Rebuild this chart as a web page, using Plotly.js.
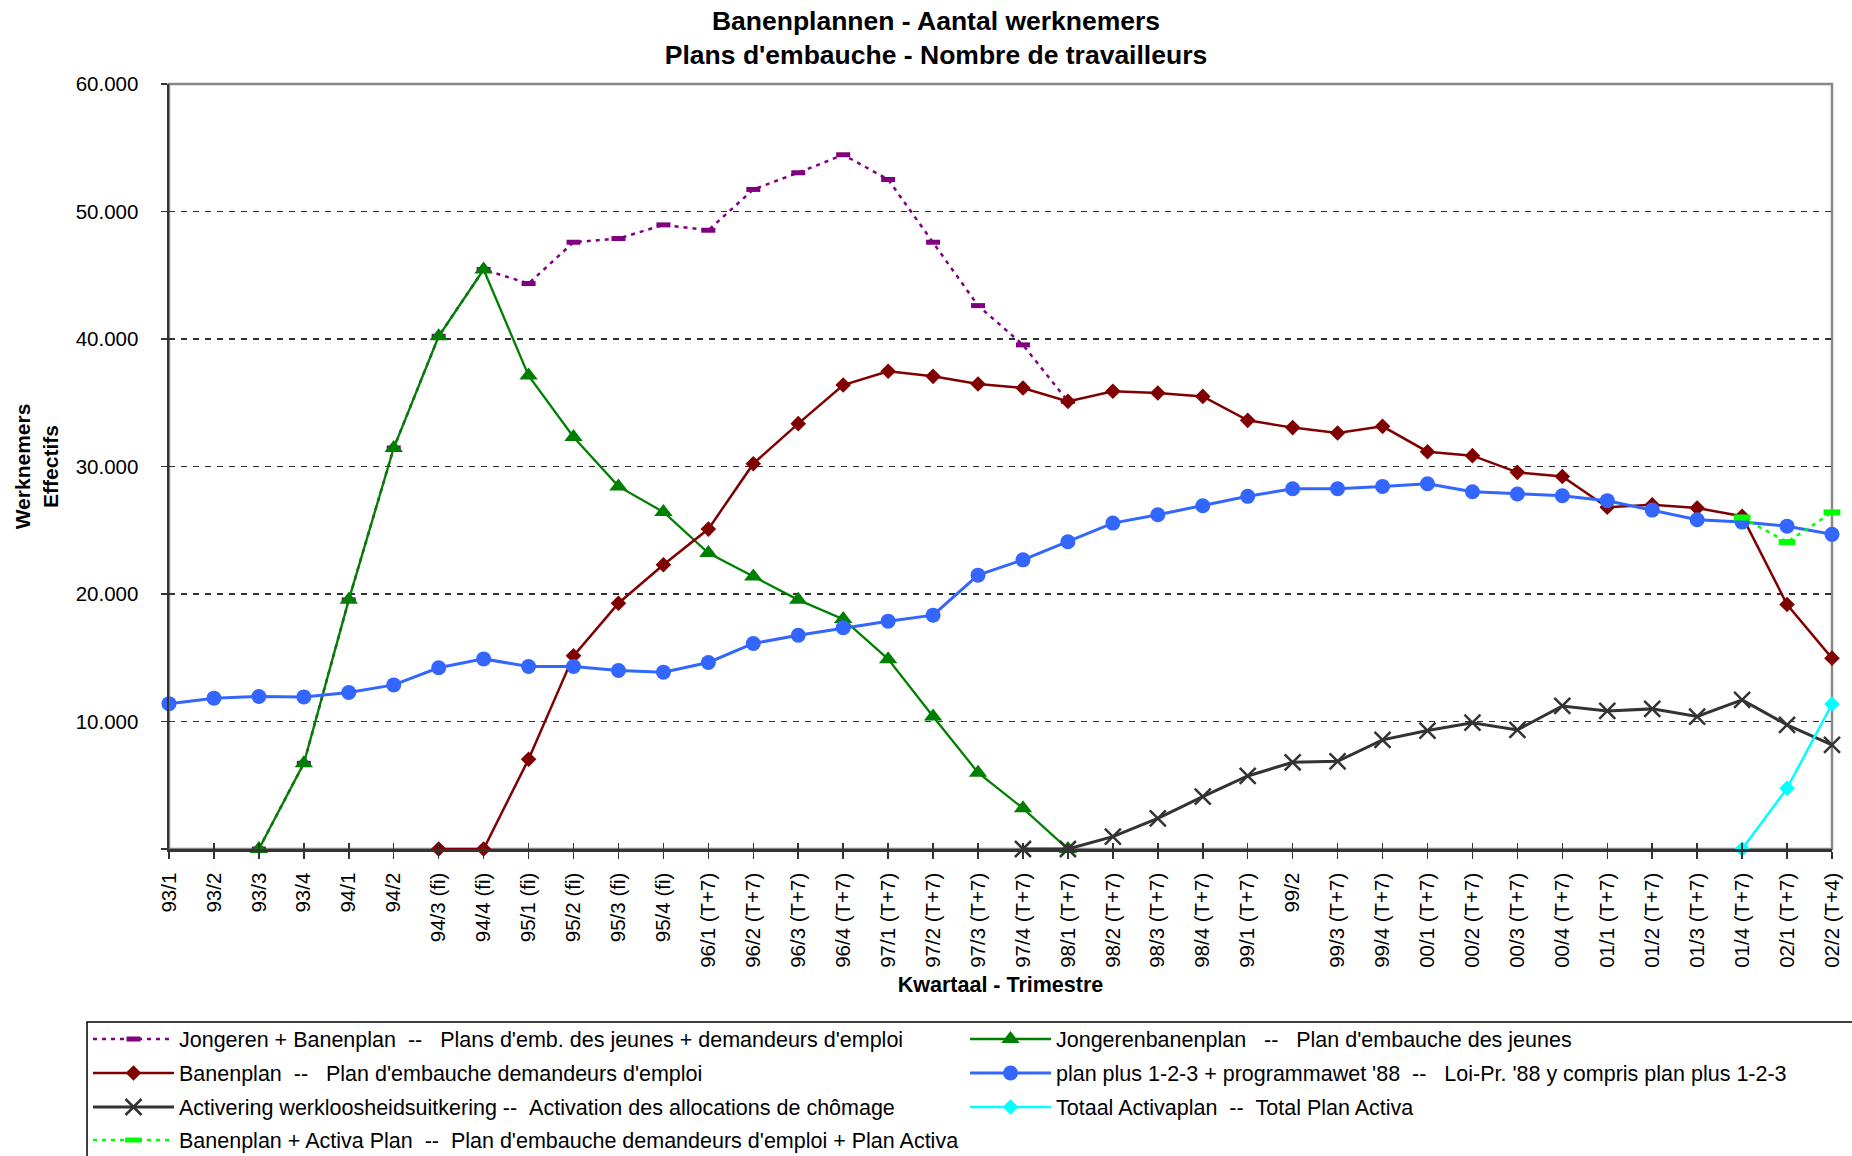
<!DOCTYPE html>
<html>
<head>
<meta charset="utf-8">
<script src="https://cdn.plot.ly/plotly-3.0.1.min.js"></script>
<style>
html,body{margin:0;padding:0;background:#ffffff;}
#chart{width:1852px;height:1156px;}
</style>
</head>
<body>
<div id="chart"></div>
<script>
// ---------- DATA ----------
const quarters = ['93/1','93/2','93/3','93/4','94/1','94/2','94/3 (fi)','94/4 (fi)','95/1 (fi)','95/2 (fi)','95/3 (fi)','95/4 (fi)',
  '96/1 (T+7)','96/2 (T+7)','96/3 (T+7)','96/4 (T+7)','97/1 (T+7)','97/2 (T+7)','97/3 (T+7)','97/4 (T+7)',
  '98/1 (T+7)','98/2 (T+7)','98/3 (T+7)','98/4 (T+7)','99/1 (T+7)','99/2','99/3 (T+7)','99/4 (T+7)',
  '00/1 (T+7)','00/2 (T+7)','00/3 (T+7)','00/4 (T+7)','01/1 (T+7)','01/2 (T+7)','01/3 (T+7)','01/4 (T+7)',
  '02/1 (T+7)','02/2 (T+4)'];

const jongerenPlusBanenplan = [null,null,0,6720,19540,31450,40210,45450,44350,47590,47880,48950,48530,51730,53040,54450,52510,47590,42620,39540,35110,
  null,null,null,null,null,null,null,null,null,null,null,null,null,null,null,null,null];

const jongerenbanenplan = [null,null,0,6720,19540,31450,40210,45450,37130,32310,28440,26430,23210,21380,19540,18030,14890,10390,5990,3190,0,
  null,null,null,null,null,null,null,null,null,null,null,null,null,null,null,null,null];

const banenplan = [null,null,null,null,null,null,0,0,7040,15150,19280,22290,25090,30220,33360,36390,37470,37070,36470,36160,35110,
  35900,35770,35500,33620,33050,32630,33150,31160,30850,29540,29220,26800,27000,26740,26100,19180,14970];

const planPlus123 = [11400,11830,11960,11930,12270,12870,14210,14910,14310,14310,14000,13870,14630,16120,16770,17350,17870,18340,21480,22680,24100,
  25560,26220,26920,27660,28260,28260,28440,28650,28020,27840,27710,27320,26580,25820,25640,25320,24680];

const activering = [null,null,null,null,null,null,null,null,null,null,null,null,null,null,null,null,null,null,null,0,0,
  970,2410,4110,5730,6800,6880,8560,9290,9910,9340,11220,10830,10990,10390,11700,9730,8160];

const totaalActivaplan = [null,null,null,null,null,null,null,null,null,null,null,null,null,null,null,null,null,null,null,null,null,
  null,null,null,null,null,null,null,null,null,null,null,null,null,null,0,4760,11370];

const banenplanPlusActiva = [null,null,null,null,null,null,null,null,null,null,null,null,null,null,null,null,null,null,null,null,null,
  null,null,null,null,null,null,null,null,null,null,null,null,null,null,26000,24070,26400];

const yTickValues = [0,10000,20000,30000,40000,50000,60000];
const yTickLabels = ['','10.000','20.000','30.000','40.000','50.000','60.000'];

const seriesNames = [
  "Jongeren + Banenplan  --   Plans d'emb. des jeunes + demandeurs d'emploi",
  "Jongerenbanenplan   --   Plan d'embauche des jeunes",
  "Banenplan  --   Plan d'embauche demandeurs d'emploi",
  "plan plus 1-2-3 + programmawet '88  --   Loi-Pr. '88 y compris plan plus 1-2-3",
  "Activering werkloosheidsuitkering --  Activation des allocations de chômage",
  "Totaal Activaplan  --  Total Plan Activa",
  "Banenplan + Activa Plan  --  Plan d'embauche demandeurs d'emploi + Plan Activa"
];

const titleLines = ['Banenplannen - Aantal werknemers', "Plans d'embauche - Nombre de travailleurs"];
const yTitleLines = ['Werknemers', 'Effectifs'];
const xTitle = 'Kwartaal - Trimestre';

// ---------- STYLE ----------
const FONT = '"Liberation Sans", Arial, Helvetica, sans-serif';
const keepSpaces = s => s.replace(/ {2,}/g, m => '\u00a0'.repeat(m.length));

function tr(y, name, legend, opts) {
  return Object.assign({
    type: 'scatter', mode: 'lines+markers', x: quarters, y: y,
    name: keepSpaces(name), legend: legend, cliponaxis: false,
    connectgaps: false, hoverinfo: 'x+y+name'
  }, opts);
}

const traces = [
  tr(jongerenPlusBanenplan, seriesNames[0], 'legend', {
    line: {color: '#800080', width: 2.5, dash: '4px,5px'},
    marker: {symbol: 'line-ew', size: 10, color: '#800080', line: {color: '#800080', width: 5}}
  }),
  tr(jongerenbanenplan, seriesNames[1], 'legend', {
    line: {color: '#008000', width: 2.3},
    marker: {symbol: 'triangle-up', size: 16, color: '#008000', line: {width: 0}}
  }),
  tr(banenplan, seriesNames[2], 'legend2', {
    line: {color: '#800000', width: 2.5},
    marker: {symbol: 'diamond', size: 12, color: '#800000', line: {width: 0}}
  }),
  tr(planPlus123, seriesNames[3], 'legend2', {
    line: {color: '#3366FF', width: 3},
    marker: {symbol: 'circle', size: 15, color: '#3366FF', line: {width: 0}}
  }),
  tr(activering, seriesNames[4], 'legend3', {
    line: {color: '#333333', width: 3},
    marker: {symbol: 'x-thin', size: 16, color: '#333333', line: {color: '#333333', width: 2.5}}
  }),
  tr(totaalActivaplan, seriesNames[5], 'legend3', {
    line: {color: '#00FFFF', width: 2.5},
    marker: {symbol: 'diamond', size: 12, color: '#00FFFF', line: {width: 0}}
  }),
  tr(banenplanPlusActiva, seriesNames[6], 'legend4', {
    line: {color: '#00FF00', width: 2.5, dash: '4px,5px'},
    marker: {symbol: 'line-ew', size: 12, color: '#00FF00', line: {color: '#00FF00', width: 6}}
  }),
  // empty helper trace so that the overlay axis (inner half of the crossing ticks) is drawn
  {type: 'scatter', mode: 'markers', x: [], y: [], xaxis: 'x2', yaxis: 'y', showlegend: false, hoverinfo: 'skip'}
];

function legendRow(yTop) {
  return {
    orientation: 'h', x: -0.04871, xref: 'paper', xanchor: 'left',
    y: yTop, yref: 'paper', yanchor: 'top',
    bgcolor: 'rgba(0,0,0,0)', borderwidth: 0,
    itemwidth: 81, entrywidth: 781, entrywidthmode: 'pixels',
    font: {family: FONT, size: 21.5, color: '#000'},
    traceorder: 'normal', itemclick: false, itemdoubleclick: false
  };
}

const layout = {
  width: 1852, height: 1156,
  margin: {l: 169, r: 20, t: 84, b: 307, pad: 0, autoexpand: false},
  paper_bgcolor: '#ffffff', plot_bgcolor: '#ffffff',
  font: {family: FONT, size: 20.5, color: '#000000'},
  showlegend: true,
  hovermode: 'closest',
  title: {
    text: titleLines.join('<br>'),
    font: {family: FONT, size: 26.5, weight: 'bold', color: '#000'},
    x: 0.5054, xref: 'container', xanchor: 'center',
    y: 0.9744, yref: 'container', yanchor: 'top'
  },
  xaxis: {
    type: 'category', categoryorder: 'array', categoryarray: quarters,
    range: [0, quarters.length - 1], autorange: false,
    tickangle: -90, ticks: 'outside', ticklen: 7, tickwidth: 1.5, tickcolor: '#333',
    showline: true, linecolor: '#333', linewidth: 2.5,
    showgrid: false, zeroline: false, automargin: false,
    tickfont: {family: FONT, size: 20.5, color: '#000'},
    ticklabelstandoff: 6,
    title: {text: xTitle, font: {family: FONT, size: 21.5, weight: 'bold', color: '#000'}, standoff: 10}
  },
  xaxis2: {
    overlaying: 'x', anchor: 'y', side: 'bottom', type: 'linear',
    range: [0, quarters.length - 1], autorange: false,
    tickmode: 'linear', tick0: 0, dtick: 1,
    ticks: 'inside', ticklen: 6, tickwidth: 1.5, tickcolor: '#333',
    showticklabels: false, showgrid: false, zeroline: false, showline: false
  },
  yaxis: {
    range: [0, 60000], autorange: false,
    tickmode: 'array', tickvals: yTickValues, ticktext: yTickLabels,
    ticks: 'outside', ticklen: 6, tickwidth: 1.5, tickcolor: '#333',
    showline: true, linecolor: '#333', linewidth: 2.5,
    showgrid: true, gridcolor: '#303030', gridwidth: 1.5, griddash: '6px,6px',
    zeroline: false, automargin: false,
    tickfont: {family: FONT, size: 20.5, color: '#000'},
    ticklabelstandoff: 18,
    title: {text: yTitleLines.join('<br>'), font: {family: FONT, size: 21, weight: 'bold', color: '#000'}, standoff: 12}
  },
  legend: legendRow(-0.2216),
  legend2: legendRow(-0.2660),
  legend3: legendRow(-0.3105),
  legend4: legendRow(-0.3536),
  shapes: [
    { // plot-area frame (gray, as in the reference)
      type: 'rect', xref: 'paper', yref: 'paper', layer: 'between',
      x0: 0, x1: 1, y0: 0, y1: 1,
      line: {color: '#888888', width: 2.5}, fillcolor: 'rgba(0,0,0,0)'
    },
    { // legend box
      type: 'rect', xref: 'paper', yref: 'paper', layer: 'above',
      x0: -0.0493, x1: 1.02, y0: -0.2261, y1: -0.45,
      line: {color: '#000000', width: 1.5}, fillcolor: 'rgba(0,0,0,0)'
    }
  ]
};

Plotly.newPlot('chart', traces, layout, {displayModeBar: false, responsive: false, staticPlot: true});
</script>
</body>
</html>
